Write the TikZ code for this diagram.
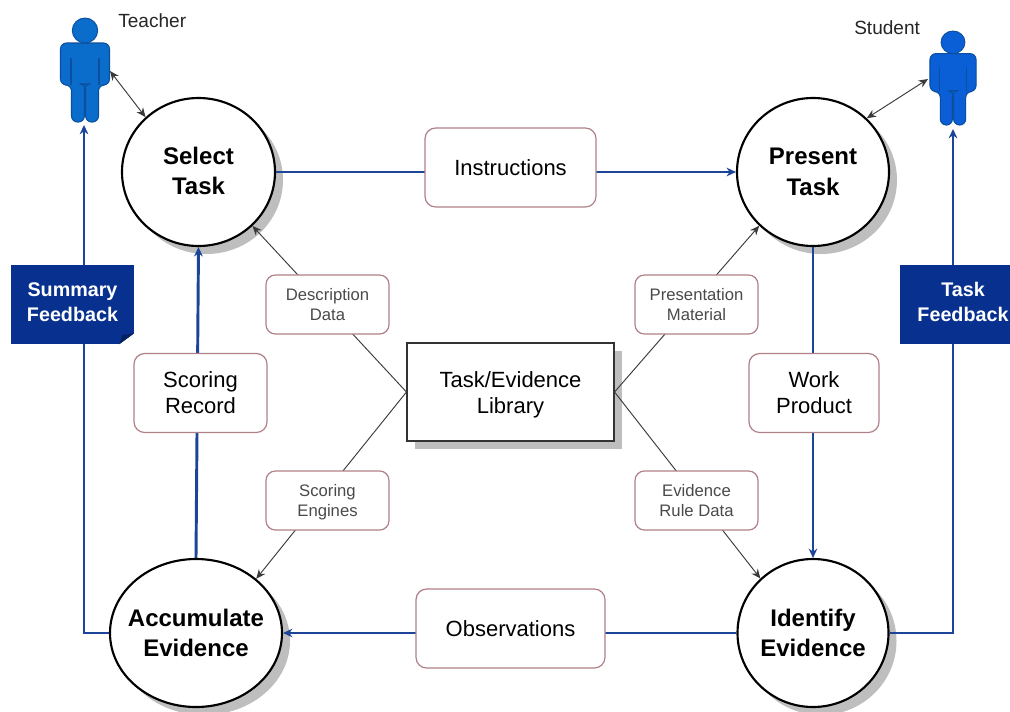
\documentclass[tikz,border=0pt]{standalone}
\usepackage{fontspec}
\setmainfont{Liberation Sans}
\usetikzlibrary{arrows.meta,shadows,shapes.geometric}
\definecolor{flow}{HTML}{1C4597}
\definecolor{navy}{HTML}{08318F}
\definecolor{navydark}{HTML}{052260}
\definecolor{rose}{HTML}{B08088}
\definecolor{shade}{HTML}{BEBEBE}
\definecolor{thin}{HTML}{3A3A3A}
\definecolor{graytext}{HTML}{4A4A4A}
\definecolor{persona}{HTML}{0A6CCB}
\definecolor{personb}{HTML}{0A5ED6}
\definecolor{personedge}{HTML}{0B4F9E}
\tikzset{
  circtext/.style={align=center,inner sep=0pt,font=\fontsize{18}{23}\selectfont\bfseries},
  circ/.style={ellipse,draw=black,line width=1.6pt,fill=white,inner sep=0pt,
    drop shadow={shadow xshift=6pt,shadow yshift=-6pt,opacity=1,fill=shade}},
  libtext/.style={align=center,inner sep=0pt,font=\fontsize{16.5}{19.5}\selectfont},
  libbox/.style={rectangle,draw=black!80,line width=.8pt,fill=white,inner sep=0pt,
    minimum width=155.25pt,minimum height=73.5pt,
    drop shadow={shadow xshift=6pt,shadow yshift=-6pt,opacity=1,fill=shade}},
  bigbox/.style={rectangle,rounded corners=8pt,draw=rose,line width=.9pt,fill=white,inner sep=0pt,
    align=center,minimum height=59.25pt,font=\fontsize{16.5}{19.5}\selectfont},
  smallbox/.style={rectangle,rounded corners=7pt,draw=rose,line width=.9pt,fill=white,inner sep=0pt,
    align=center,minimum width=92.25pt,minimum height=44.25pt,text=graytext,
    font=\fontsize{12.5}{15}\selectfont},
  smalltext/.style={align=center,inner sep=0pt,text=graytext,font=\fontsize{12.5}{15}\selectfont},
  feedback/.style={rectangle,fill=navy,inner sep=0pt,minimum height=59.25pt},
  feedtext/.style={align=center,inner sep=0pt,text=white,font=\fontsize{14.8}{18.7}\selectfont\bfseries},
  actor/.style={inner sep=0pt,font=\fontsize{14.3}{17}\selectfont,text=black!85},
  flowline/.style={draw=flow,line width=2.2pt},
  flowarrow/.style={flowline,-{Stealth[length=7pt,width=6.5pt]}},
  thinline/.style={draw=thin,line width=.7pt},
  thinarrow/.style={thinline,-{Stealth[length=7pt,width=6pt]}},
  thinboth/.style={thinline,{Stealth[length=7pt,width=6pt]}-{Stealth[length=7pt,width=6pt]}},
  person/.pic={
    \path[fill=personfill,draw=personedge,line width=.8pt,rounded corners=4.5pt]
      (-24.5,25)--(24.5,25)--(24.5,67)--(13.5,67)--(13.5,104)--(.6,104)--(.6,66)--(-.6,66)--(-.6,104)
      --(-13.5,104)--(-13.5,67)--(-24.5,67)--cycle;
    \path[fill=personfill,draw=personedge,line width=.7pt] (0,12.5) ellipse (12.7 and 12.5);
    \path[draw=personedge,line width=.9pt] (-14,40)--(-14,67) (14,40)--(14,67);
  }
}
\begin{document}
\begin{tikzpicture}[x=.75pt,y=-.75pt]
\useasboundingbox (0,0) rectangle (1010,711);
\fill[white] (0,0) rectangle (1010,711);

% persons
\colorlet{personfill}{persona}
\pic[xscale=1,yscale=1] at (85,18) {person};
\colorlet{personfill}{personb}
\pic[xscale=.94,yscale=.904] at (953,31) {person};
\coordinate (teacherfoot) at (84,125);
\coordinate (studentfoot) at (953,129);
\coordinate (teacherside) at (110,71);
\coordinate (studentside) at (928,79);

% process circles
\node[circ,minimum width=114.75pt,minimum height=111pt,
  label={[circtext,yshift=.75pt]center:{Select\\Task}}] (sel) at (198.5,172) {};
\node[circ,minimum width=114pt,minimum height=111pt,
  label={[circtext]center:{Present\\Task}}] (pre) at (813,172) {};
\node[circ,minimum width=129pt,minimum height=111pt,
  label={[circtext]center:{Accumulate\\Evidence}}] (acc) at (196,633) {};
\node[circ,minimum width=113.25pt,minimum height=111pt,
  label={[circtext]center:{Identify\\Evidence}}] (ide) at (813,633) {};
\node[libbox,label={[libtext,yshift=-2.25pt]center:{Task/Evidence\\Library}}] (lib) at (510.5,392) {};

% connectors
\draw[flowarrow] (acc.west) -| (teacherfoot);
\draw[flowarrow] (ide.east) -| (studentfoot);
\draw[flowarrow] (acc.north) -- (sel.south);
\draw[flowarrow] (sel.east) -- (pre.west);
\draw[flowarrow] (pre.south) -- (ide.north);
\draw[flowarrow] (ide.west) -- (acc.east);
\draw[thinarrow] (lib.west) -- (sel.-45);
\draw[thinarrow] (lib.west) -- (acc.42);
\draw[thinarrow] (lib.east) -- (pre.225);
\draw[thinarrow] (lib.east) -- (ide.134);
\draw[thinboth] (teacherside) -- (sel.134);
\draw[thinboth] (studentside) -- (pre.45);

% data boxes, over the lines that pass behind them
\node[bigbox,minimum width=128.25pt] (ins) at (510.5,167.5) {Instructions};
\node[bigbox,minimum width=141.75pt] (obs) at (510.5,628.5) {Observations};
\node[bigbox,minimum width=99.75pt] (rec) at (200.5,393) {Scoring\\Record};
\node[bigbox,minimum width=97.5pt] (wrk) at (814,393) {Work\\Product};
\node[smallbox] (des) at (327.5,304.5) {Description\\Data};
\node[smallbox] (mat) at (696.5,304.5) {Presentation\\Material};
\node[smallbox,label={[smalltext,yshift=-1.5pt]center:{Scoring\\Engines}}] (eng) at (327.5,500.5) {};
\node[smallbox] (rul) at (696.5,500.5) {Evidence\\Rule Data};

% feedback boxes
\node[feedback,minimum width=92.25pt,label={[feedtext,yshift=1.5pt]center:{Summary\\Feedback}}] (sum) at (72.5,304.5) {};
\node[feedback,minimum width=82.5pt,label={[feedtext,xshift=6pt,yshift=2pt]center:{Task\\Feedback}}] (tsk) at (955,304.5) {};
\fill[white] (sum.south east) -- ++(-15,0) -- ++(15,-11) -- cycle;
\fill[navydark] ([xshift=-11.25pt]sum.south east) -- ++(11.25pt,8.25pt) -- ++(-9pt,-1.5pt) -- cycle;

% actors
\node[actor,anchor=west] (tea) at (118,21) {Teacher};
\node[actor,anchor=west] (stu) at (854,28) {Student};
\end{tikzpicture}
\end{document}
